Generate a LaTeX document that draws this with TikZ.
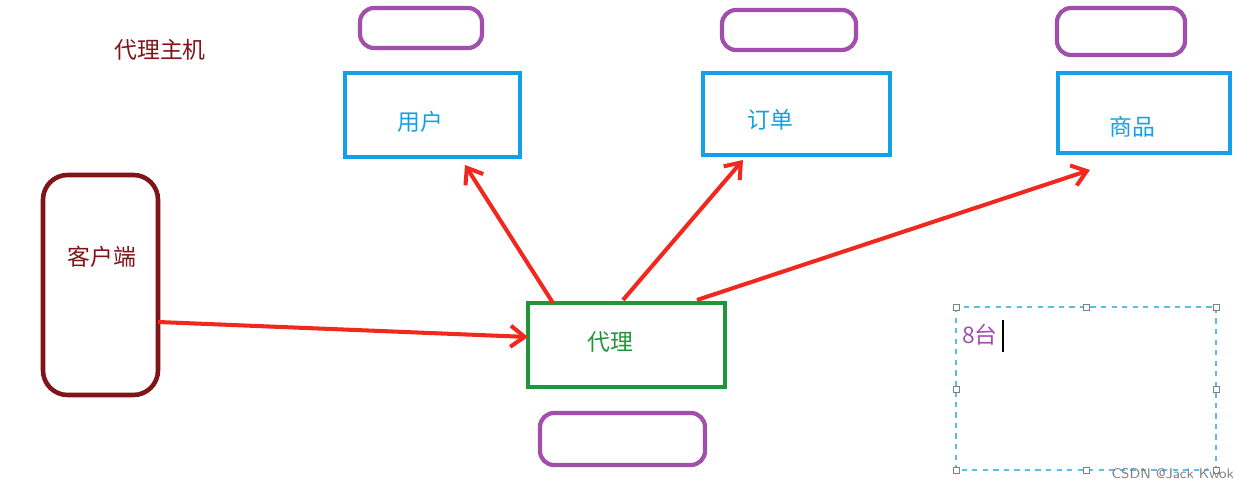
\documentclass[tikz,border=0pt]{standalone}
\usepackage{fontspec}
\newfontfamily\cjk{Noto Sans CJK SC}
\usetikzlibrary{arrows.meta}
\definecolor{dred}{RGB}{128,20,25}
\definecolor{bblue}{RGB}{20,160,230}
\definecolor{ggreen}{RGB}{30,150,60}
\definecolor{ppurple}{RGB}{160,80,170}
\definecolor{rred}{RGB}{240,40,30}
\tikzset{
 px/.style={x=0.02cm,y=-0.02cm},
 bluebox/.style={draw=bblue,line width=2.8pt},
 pill/.style={draw=ppurple,line width=2.4pt,rounded corners=8pt},
 lab/.style={font=\cjk\fontsize{13}{15}\selectfont},
 arr/.style={draw=rred,line width=2.3pt,-{Straight Barb[length=8pt,width=12pt]}},
 handle/.style={draw=gray,fill=white,line width=0.4pt,minimum size=3.5pt,inner sep=0pt}
}
\begin{document}
\begin{tikzpicture}[px]
\useasboundingbox (0,0) rectangle (1252,489);
\node[lab,text=dred] (title) at (160,50) {代理主机};
% client
\draw[draw=dred,line width=2.6pt,rounded corners=14pt] (43,175) rectangle (158,395);
\node[lab,text=dred] (client) at (102,257) {客户端};
\coordinate (cl) at (158,322);
% boxes
\draw[bluebox] (345,73) rectangle (520,157);
\node[lab,text=bblue] (user) at (420,122) {用户};
\draw[pill] (360,8) rectangle (482,48);
\draw[bluebox] (703,73) rectangle (890,155);
\node[lab,text=bblue] (order) at (770,120) {订单};
\draw[pill] (722,10) rectangle (856,50);
\draw[bluebox] (1058,73) rectangle (1230,153);
\node[lab,text=bblue] (goods) at (1132,127) {商品};
\draw[pill] (1057,8) rectangle (1185,55);
% proxy
\draw[draw=ggreen,line width=2.8pt] (528,303) rectangle (725,387);
\node[lab,text=ggreen] (proxy) at (610,342) {代理};
\draw[pill] (540,413) rectangle (705,465);
% arrows
\coordinate (pin) at (528,337);
\coordinate (p1) at (553,303);
\coordinate (p2) at (623,300);
\coordinate (p3) at (697,300);
\coordinate (t1) at (465,165);
\coordinate (t2) at (743,160);
\coordinate (t3) at (1090,170);
\draw[arr] (cl) -- (pin);
\draw[arr] (p1) -- (t1);
\draw[arr] (p2) -- (t2);
\draw[arr] (p3) -- (t3);
% text box
\draw[draw=bblue!70,dashed,line width=0.6pt] (956,307) rectangle (1216,470);
\foreach \x in {956,1086,1216}{\node[handle] at (\x,307){};\node[handle] at (\x,470){};}
\foreach \x in {956,1216}{\node[handle] at (\x,389){};}
\node[lab,text=ppurple,anchor=west] (eight) at (956,335) {8台};
\draw[line width=1pt] (1003,320) -- (1003,352);
\node[font=\sffamily\fontsize{8}{9}\selectfont,text=gray,anchor=east] (wm) at (1240,474) {CSDN @Jack Kwok};
\end{tikzpicture}
\end{document}
